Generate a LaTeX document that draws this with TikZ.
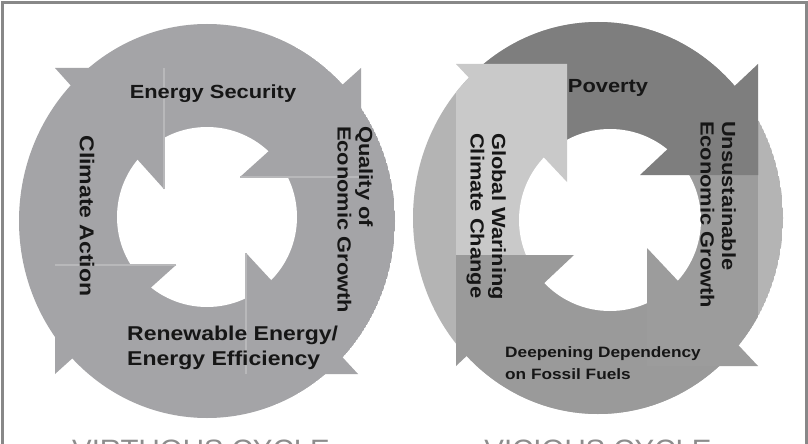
\documentclass[tikz,border=0pt]{standalone}
\usepackage{fontspec}
\newfontfamily\lbl[FakeStretch=1.15]{Liberation Sans}
\newfontfamily\ttl[FakeStretch=1.05]{Liberation Sans}
\definecolor{ringL}{HTML}{A4A4A7}
\definecolor{seamc}{HTML}{B8B8BA}
\definecolor{baseR}{HTML}{B4B4B4}
\definecolor{povC}{HTML}{7E7E7E}
\definecolor{unsC}{HTML}{9C9C9C}
\definecolor{depC}{HTML}{9A9A9A}
\definecolor{gwC}{HTML}{C9C9C9}
\definecolor{txt}{HTML}{161616}
\definecolor{framec}{HTML}{888888}
\definecolor{ttlc}{HTML}{8C8C8C}
\begin{document}
\begin{tikzpicture}[x=1pt,y=-1pt,
  lab/.style={font=\lbl\bfseries\fontsize{19}{21.5}\selectfont, text=txt, inner sep=0pt, align=left},
  smalllab/.style={font=\lbl\bfseries\fontsize{15}{22}\selectfont, text=txt, inner sep=0pt, align=left},
  titlelab/.style={font=\ttl\fontsize{28}{30}\selectfont, text=ttlc, inner sep=0pt},
  seam/.style={draw=seamc, line width=1.2pt}]
\useasboundingbox (0,0) rectangle (808,444);
\clip (0,0) rectangle (808,444);
\fill[white] (0,0) rectangle (808,444);

% ---------- left cycle (virtuous) ----------
\begin{scope}
  \clip (207,221) ellipse [x radius=188, y radius=197];
  \fill[ringL] (207,221) ellipse [x radius=188, y radius=197];
  \fill[white] (207,217) circle (90);
\end{scope}
\fill[ringL] (361,68) -- (240,177) -- (361,177) -- cycle;
\fill[ringL] (358,374) -- (246,253) -- (246,374) -- cycle;
\fill[ringL] (55,374) -- (176,265) -- (55,265) -- cycle;
\fill[ringL] (55,68) -- (164,189) -- (164,68) -- cycle;
\draw[seam] (240,177) -- (361,177);
\draw[seam] (246,253) -- (246,374);
\draw[seam] (176,265) -- (55,265);
\draw[seam] (164,189) -- (164,68);

\node[lab] (es) at (213,94) {Energy Security};
\node[lab, rotate=-90, font=\lbl\bfseries\fontsize{20}{22}\selectfont] (ca) at (87,216) {Climate Action};
\node[lab, rotate=-90, anchor=north west] (qe) at (373,126) {Quality of\\Economic Growth};
\node[lab, anchor=north west, font=\lbl\bfseries\fontsize{20}{25}\selectfont] (re) at (127,326) {Renewable Energy/\\Energy Efficiency};

% ---------- right cycle (vicious) ----------
\begin{scope}
  \clip (598,218) ellipse [x radius=185, y radius=196];
  \fill[baseR] (598,218) ellipse [x radius=185, y radius=196];
  \fill[povC] (456,-10) -- (758,-10) -- (758,175) -- (567,175) -- (567,64) -- (456,64) -- cycle;
  \fill[unsC] (647,175) rectangle (758,366);
  \fill[depC] (758,366) -- (758,460) -- (456,460) -- (456,255) -- (647,255) -- (647,366) -- cycle;
  \fill[gwC] (456,64) rectangle (567,255);
  \fill[white] (610,220) circle (91);
\end{scope}
\fill[povC] (758,64) -- (640,175) -- (758,175) -- cycle;
\fill[unsC] (758,366) -- (647,248) -- (647,366) -- cycle;
\fill[depC] (456,366) -- (574,255) -- (456,255) -- cycle;
\fill[gwC] (456,64) -- (567,182) -- (567,64) -- cycle;

\node[lab] (pv) at (608,88) {Poverty};
\node[lab, rotate=-90, anchor=north west] (gw) at (506,133) {Global Warining\\Climate Change};
\node[lab, rotate=-90, anchor=north west] (ue) at (736,121) {Unsustainable\\Economic Growth};
\node[smalllab, anchor=north west] (dd) at (505,346) {Deepening Dependency\\on Fossil Fuels};

% ---------- titles (cut off at the bottom, as in the reference) ----------
\node[titlelab, anchor=base] (tv) at (201,459) {VIRTUOUS CYCLE};
\node[titlelab, anchor=base] (tc) at (598,459) {VICIOUS CYCLE};

% ---------- frame ----------
\draw[framec, line width=2.5pt] (2.5,2.5) rectangle (806.5,470);
\end{tikzpicture}
\end{document}
